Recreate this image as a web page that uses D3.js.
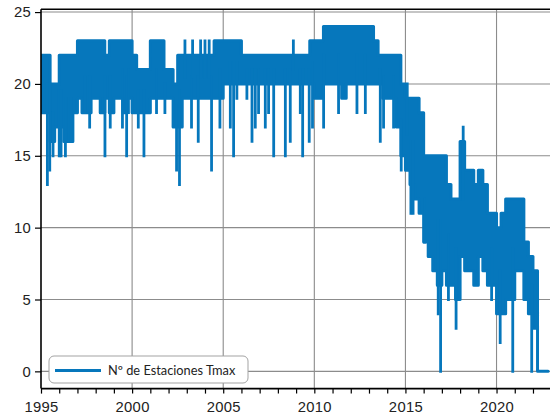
<!DOCTYPE html>
<html>
<head>
<meta charset="utf-8">
<script src="https://cdn.jsdelivr.net/npm/d3@7"></script>
<style>
  body { margin: 0; background: #fff; }
  svg { font-family: Lato, "Open Sans", sans-serif; }
  .grid line { stroke: #8c8c8c; stroke-width: 1.1; }
  .axis path, .axis line { stroke: #000; }
  .axis text { font-size: 14.8px; fill: #222; letter-spacing: 0.3px; }
</style>
</head>
<body>
<svg id="chart" width="550" height="416"></svg>
<script>
// quarterly max / min of the station count, 1995 Q1 .. 2022 Q4
const startYear = 1995;
const endYear = 2022.83; // last observation
const hi = [
  22, 22, 20, 20,  22, 22, 22, 22,  23, 23, 23, 23,  23, 23, 22, 23,  23, 23, 23, 23, // 1995-99
  22, 21, 21, 21,  23, 23, 23, 21,  21, 20, 22, 22,  22, 22, 22, 22,  22, 22, 23, 23, // 2000-04
  23, 23, 23, 23,  22, 22, 22, 22,  22, 22, 22, 22,  22, 22, 22, 22,  22, 22, 22, 23, // 2005-09
  23, 23, 24, 24,  24, 24, 24, 24,  24, 24, 24, 24,  24, 23, 22, 22,  22, 22, 22, 20, // 2010-14
  19, 19, 19, 18,  15, 15, 15, 15,  15, 13, 12, 12,  16, 14, 14, 13,  14, 13, 11, 11, // 2015-19
  10, 11, 12, 12,  12, 12,  9,  8,   7,  0,  0,  0                                     // 2020-22
];
const lo = [
  18, 18, 16, 17,  17, 16, 16, 18,  19, 18, 18, 19,  19, 18, 19, 18,  19, 19, 18, 19, // 1995-99
  18, 18, 18, 18,  19, 19, 19, 19,  19, 17, 17, 19,  19, 19, 19, 19,  19, 19, 19, 19, // 2000-04
  20, 20, 20, 20,  20, 20, 20, 20,  20, 20, 20, 20,  20, 20, 20, 20,  20, 20, 20, 20, // 2005-09
  19, 19, 20, 20,  20, 20, 19, 20,  20, 20, 20, 20,  20, 20, 20, 19,  19, 19, 17, 15, // 2010-14
  14, 13, 12, 11,   9,  8,  7,  6,   7,  6,  6,  5,   8,  7,  7,  6,   8,  7,  6,  6, // 2015-19
   4,  4,  5,  5,   7,  7,  5,  4,   3,  0,  0,  0                                     // 2020-22
];
// single-day outliers (decimal year, value)
const spikeYears = [
  1995.35, 1995.48, 1995.66, 1996.0, 1996.1, 1996.34, 1996.55, 1996.66, 1997.4, 1997.67,
  1998.51, 1998.8, 1999.47, 1999.7, 1999.8,
  2000.34, 2000.65, 2001.34, 2001.8, 2002.44, 2002.6, 2002.9, 2003.26, 2003.32, 2003.63,
  2003.76, 2004.0, 2004.23, 2004.36, 2004.82,
  2005.39, 2005.57, 2005.75, 2006.3, 2006.58, 2006.76, 2006.94, 2007.31, 2007.49, 2007.77,
  2008.41, 2008.68, 2008.85, 2009.23, 2009.36, 2009.72, 2009.9,
  2010.51, 2011.33, 2012.34, 2012.8, 2013.62, 2013.8, 2014.35, 2014.77,
  2015.1, 2015.3, 2015.42, 2016.05, 2016.8, 2016.93, 2017.36, 2017.78, 2018.17,
  2019.73, 2020.2, 2020.89, 2021.93
];
const spikeValues = [
  13, 14, 15, 15, 15, 15, 16, 16, 18, 17,
  15, 17, 17, 15, 18,
  17, 15, 18, 18, 14, 13, 23, 17, 23, 16,
  23, 23, 23, 14, 17,
  17, 15, 19, 19, 16, 17, 18, 17, 18, 15,
  15, 16, 23, 18, 15, 16, 17,
  17, 18, 18, 18, 16, 17, 17, 14,
  20, 11, 11, 9, 4, 0, 5, 3, 17,
  5, 2, 0, 0
];
const xTicks = [1995, 2000, 2005, 2010, 2015, 2020];
const yTicks = [0, 5, 10, 15, 20, 25];
const seriesName = "Nº de Estaciones Tmax";

const color = "#0677bc";
const svg = d3.select("#chart");
const plot = {left: 41, right: 551.2, top: 9.2, bottom: 388.6};

const x = d3.scaleLinear().domain([1995, 2023]).range([plot.left, plot.right]);
const y = d3.scaleLinear().domain([-1.2, 25.2]).range([plot.bottom, plot.top]);

const rows = hi.map((h, i) => ({t: startYear + i * 0.25, hi: h, lo: lo[i]}))
  .filter(d => d.t < endYear);
rows.push({t: endYear, hi: rows[rows.length - 1].hi, lo: rows[rows.length - 1].lo});

svg.append("clipPath").attr("id", "clip")
  .append("rect")
  .attr("x", plot.left).attr("y", plot.top)
  .attr("width", plot.right - plot.left).attr("height", plot.bottom - plot.top);

// grid
const grid = svg.append("g").attr("class", "grid");
grid.selectAll("line.v").data(xTicks.slice(1)).enter().append("line")
  .attr("x1", d => x(d)).attr("x2", d => x(d))
  .attr("y1", plot.top).attr("y2", plot.bottom);
grid.selectAll("line.h").data(yTicks).enter().append("line")
  .attr("x1", plot.left).attr("x2", plot.right)
  .attr("y1", d => y(d)).attr("y2", d => y(d));

// the series: daily values oscillate so fast that they read as a band
const g = svg.append("g").attr("clip-path", "url(#clip)");
const area = d3.area()
  .curve(d3.curveStepAfter)
  .x(d => x(d.t))
  .y0(d => y(d.lo))
  .y1(d => y(d.hi));
g.append("path")
  .datum(rows)
  .attr("d", area)
  .attr("fill", color)
  .attr("stroke", color)
  .attr("stroke-width", 3)
  .attr("stroke-linejoin", "round");

const bandAt = t => rows[Math.max(0, d3.bisectRight(rows.map(r => r.t), t) - 1)];
g.selectAll("line.spike")
  .data(spikeYears.map((t, i) => ({t: t, v: spikeValues[i]})))
  .enter().append("line")
  .attr("class", "spike")
  .attr("x1", d => x(d.t)).attr("x2", d => x(d.t))
  .attr("y1", d => { const b = bandAt(d.t); return y((b.hi + b.lo) / 2); })
  .attr("y2", d => y(d.v))
  .attr("stroke", color)
  .attr("stroke-width", 2.8)
  .attr("stroke-linecap", "square");

// axes
const yAxis = svg.append("g").attr("class", "axis")
  .attr("transform", `translate(${plot.left},0)`)
  .call(d3.axisLeft(y).tickValues(yTicks).tickSize(6).tickPadding(4));
yAxis.select(".domain").remove();
yAxis.selectAll("line").attr("stroke-width", 1.2);

const xAxis = svg.append("g").attr("class", "axis")
  .attr("transform", `translate(0,${plot.bottom})`)
  .call(d3.axisBottom(x).tickValues(d3.range(1995, 2023)).tickSize(5).tickPadding(8)
    .tickFormat(d => xTicks.includes(d) ? d3.format("d")(d) : ""));
xAxis.select(".domain").remove();
xAxis.selectAll("line").attr("stroke-width", 1.2);

// spines
const spines = svg.append("g").attr("stroke", "#000").attr("stroke-width", 1.6);
spines.append("line").attr("x1", plot.left).attr("x2", plot.left).attr("y1", plot.top).attr("y2", plot.bottom);
spines.append("line").attr("x1", plot.left).attr("x2", plot.right).attr("y1", plot.bottom).attr("y2", plot.bottom);
spines.append("line").attr("x1", plot.left).attr("x2", plot.right).attr("y1", plot.top).attr("y2", plot.top);

// legend
const legend = svg.append("g").attr("transform", "translate(49,356)");
legend.append("rect")
  .attr("width", 199).attr("height", 27).attr("rx", 5)
  .attr("fill", "#fff").attr("stroke", "#a3a3a3").attr("stroke-width", 1);
legend.append("line")
  .attr("x1", 6).attr("x2", 52).attr("y1", 14.5).attr("y2", 14.5)
  .attr("stroke", color).attr("stroke-width", 3);
legend.append("text")
  .attr("x", 59).attr("y", 19)
  .attr("font-size", 12.8).attr("fill", "#222")
  .text(seriesName);
</script>
</body>
</html>
